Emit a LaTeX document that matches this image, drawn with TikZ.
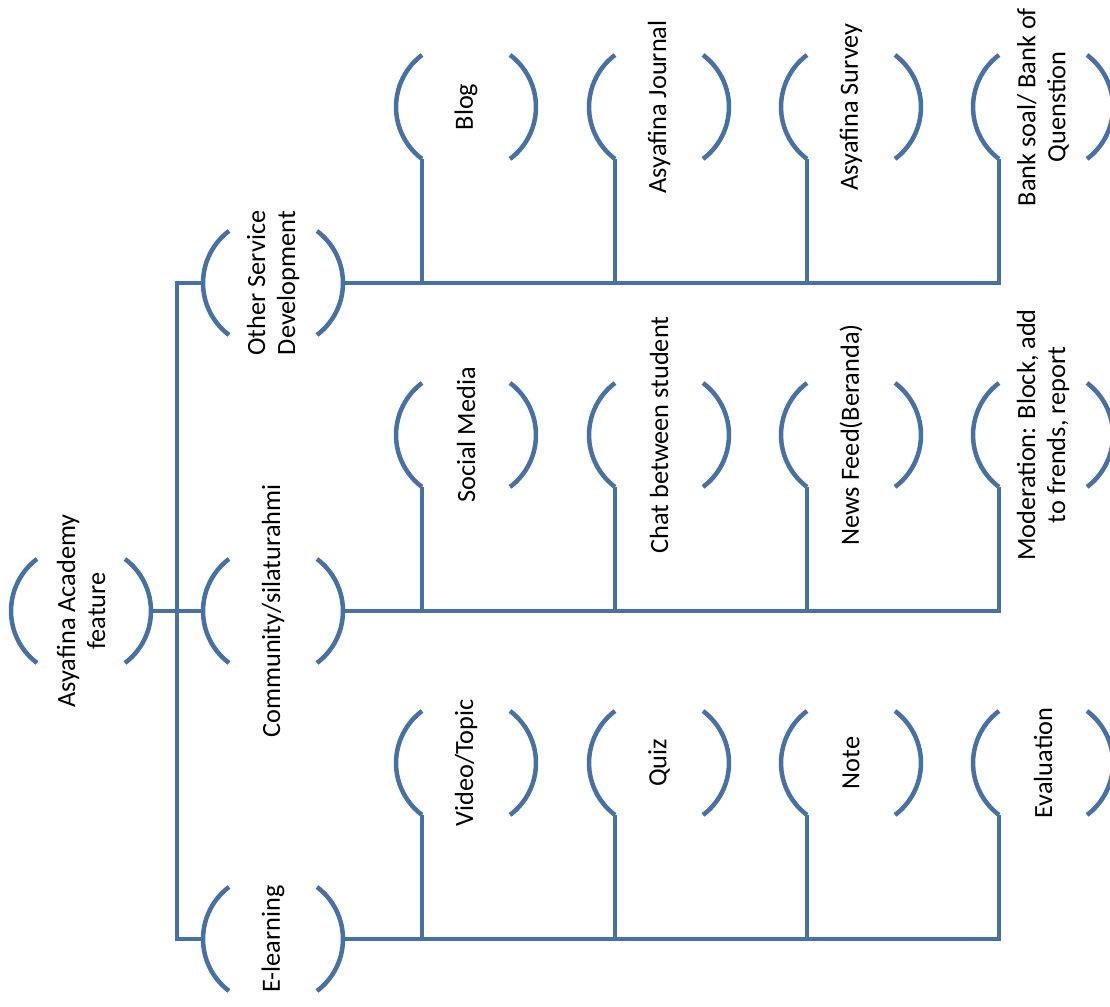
\documentclass[tikz,border=0pt]{standalone}
\usepackage{fontspec}
\setmainfont{Carlito}
\usepackage{tikz}
\usetikzlibrary{calc}

\definecolor{brkblue}{RGB}{70,112,166}

\tikzset{
  brk/.style={line width=4.5pt, draw=brkblue},
  feat/.style={rotate=90, inner sep=0pt, align=center,
    font=\fontsize{26.3}{30}\selectfont},
}

\begin{document}
\begin{tikzpicture}[x=1pt, y=1pt]
  \useasboundingbox (0,0) rectangle (1110,1006);

  % Root
  \node[feat] (root) at (81,395) {Asyafina Academy\\feature};

  % First level
  \node[feat] (other) at (273,723) {Other Service\\Development};
  \node[feat] (comm) at (273,395) {Community/silaturahmi};
  \node[feat] (elearn) at (273,67) {E-learning};

  % Other service development
  \node[feat] (blog) at (466,899) {Blog};
  \node[feat] (journal) at (659,899) {Asyafina Journal};
  \node[feat] (survey) at (851,899) {Asyafina Survey};
  \node[feat] (bank) at (1043,899) {Bank soal/ Bank of\\Quenstion};

  % Community
  \node[feat] (social) at (466,571) {Social Media};
  \node[feat] (chat) at (659,571) {Chat between student};
  \node[feat] (feed) at (851,571) {News Feed(Beranda)};
  \node[feat] (moder) at (1043,571) {Moderation: Block, add\\to frends, report};

  % E-learning
  \node[feat] (video) at (466,243) {Video/Topic};
  \node[feat] (quiz) at (659,243) {Quiz};
  \node[feat] (note) at (851,243) {Note};
  \node[feat] (eval) at (1043,243) {Evaluation};

  % Brackets round every feature
  \foreach \n in {root,other,comm,elearn,blog,journal,survey,bank,
                  social,chat,feed,moder,video,quiz,note,eval} {
    \draw[brk] ([shift={(-44,52)}]\n.center) arc[start angle=126.9, end angle=233.1, radius=65];
    \draw[brk] ([shift={(44,52)}]\n.center) arc[start angle=53.1, end angle=-53.1, radius=65];
  }

  % Trunk
  \coordinate (trunk) at ($(root.center)!0.5!(comm.center)$);
  \draw[brk] ([xshift=70]root.center) -- ([xshift=-70]comm.center);
  \draw[brk] ([xshift=-70]other.center) -| (trunk) |- ([xshift=-70]elearn.center);

  % Branches to the sub features
  \foreach \c in {blog,journal,survey,bank}
    \draw[brk] ([xshift=70]other.center) -| ([shift={(-44,-52)}]\c.center);
  \foreach \c in {social,chat,feed,moder}
    \draw[brk] ([xshift=70]comm.center) -| ([shift={(-44,-52)}]\c.center);
  \foreach \c in {video,quiz,note,eval}
    \draw[brk] ([xshift=70]elearn.center) -| ([shift={(-44,-52)}]\c.center);
\end{tikzpicture}
\end{document}
